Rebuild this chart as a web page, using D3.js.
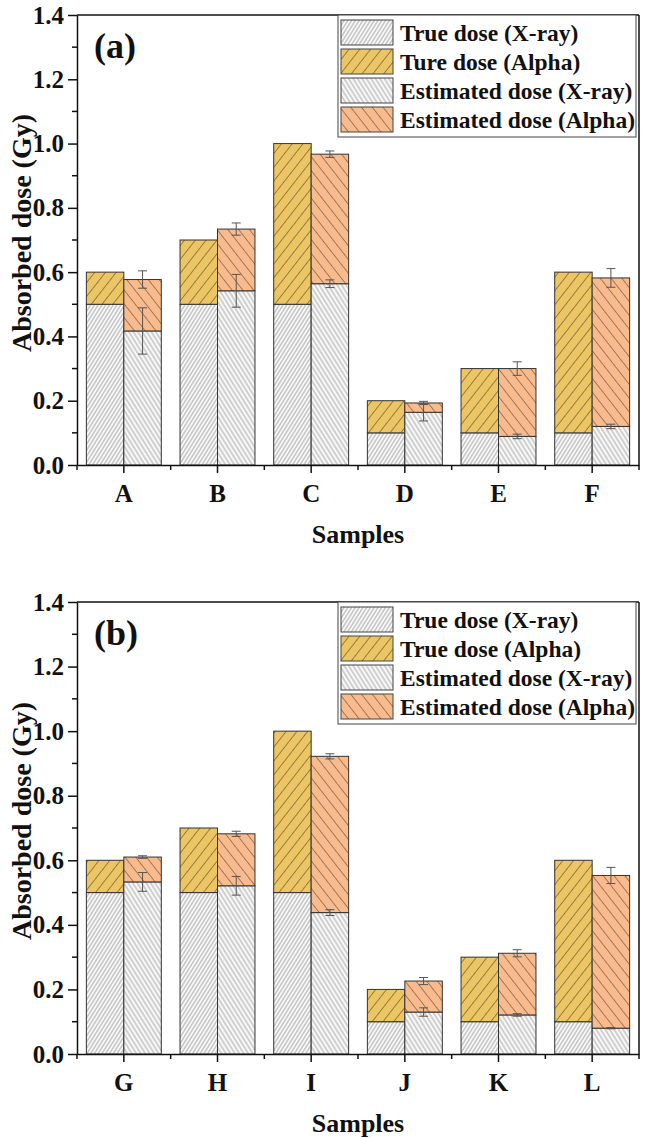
<!DOCTYPE html>
<html><head><meta charset="utf-8">
<script src="https://cdn.jsdelivr.net/npm/d3@7/dist/d3.min.js"></script>
<style>
body{margin:0;background:#fff}
svg{display:block}
text{font-family:"Liberation Serif","Times New Roman",serif;font-weight:bold;fill:#111}
</style>
</head><body>
<svg id="c" width="645" height="1138"></svg>
<script>
// ---------- data: panel (a) ----------
const categoriesA = ['A','B','C','D','E','F'];
const trueXrayA   = [0.5, 0.5, 0.5, 0.1, 0.1, 0.1];
const trueAlphaA  = [0.1, 0.2, 0.5, 0.1, 0.2, 0.5];
const estXrayA    = [0.417, 0.542, 0.564, 0.164, 0.089, 0.120];
const estXrayErrA = [0.072, 0.051, 0.012, 0.027, 0.007, 0.007];
const estAlphaA   = [0.160, 0.192, 0.403, 0.029, 0.211, 0.462];
const estTotErrA  = [0.027, 0.019, 0.010, 0.005, 0.021, 0.029];
const legendA = ['True dose (X-ray)','Ture dose (Alpha)','Estimated dose (X-ray)','Estimated dose (Alpha)'];

// ---------- data: panel (b) ----------
const categoriesB = ['G','H','I','J','K','L'];
const trueXrayB   = [0.5, 0.5, 0.5, 0.1, 0.1, 0.1];
const trueAlphaB  = [0.1, 0.2, 0.5, 0.1, 0.2, 0.5];
const estXrayB    = [0.533, 0.521, 0.438, 0.130, 0.121, 0.080];
const estXrayErrB = [0.029, 0.029, 0.009, 0.013, 0.004, 0.002];
const estAlphaB   = [0.077, 0.161, 0.484, 0.096, 0.191, 0.473];
const estTotErrB  = [0.004, 0.008, 0.008, 0.011, 0.011, 0.025];
const legendB = ['True dose (X-ray)','True dose (Alpha)','Estimated dose (X-ray)','Estimated dose (Alpha)'];

const yMajorTicks = [0, 0.2, 0.4, 0.6, 0.8, 1.0, 1.2, 1.4];
const yMinorTicks = [0.1, 0.3, 0.5, 0.7, 0.9, 1.1, 1.3];

const svg = d3.select('#c');
const defs = svg.append('defs');
function hatch(id, bg, stroke, spacing, angle, sw, op) {
  const p = defs.append('pattern').attr('id', id)
    .attr('patternUnits','userSpaceOnUse')
    .attr('width', spacing).attr('height', spacing)
    .attr('patternTransform', `rotate(${angle})`);
  p.append('rect').attr('width', spacing).attr('height', spacing).attr('fill', bg);
  p.append('line').attr('x1', spacing/2).attr('y1', -1).attr('x2', spacing/2).attr('y2', spacing+1)
    .attr('stroke', stroke).attr('stroke-width', sw).attr('stroke-opacity', op);
}
hatch('pTX', '#f8f8f8', '#7d7d7d', 3.2, 32, 0.7, 0.9);
hatch('pTA', '#ECC564', '#5e4c26', 8.5, 38, 0.8, 0.75);
hatch('pEX', '#f8f8f8', '#7d7d7d', 3.8, -32, 0.7, 0.9);
hatch('pEA', '#F8BB8D', '#6a4a38', 8.5, -38, 0.8, 0.75);
const fills = ['url(#pTX)','url(#pTA)','url(#pEX)','url(#pEA)'];

function panel(cfg) {
  const L = 77, R = 639;
  const g = svg.append('g');
  const x = d3.scaleBand().domain(cfg.cats).range([L, R]).padding(0);
  const inner = d3.scaleBand().domain(['t','e']).range([0, x.bandwidth()]).paddingInner(0).paddingOuter(0.25);
  const y = d3.scaleLinear().domain([0, 1.4]).range([cfg.bottom, cfg.top]);

  // bars
  cfg.cats.forEach((c, i) => {
    const segs = [
      {k:'t', y0:0, y1:cfg.tx[i], f:fills[0]},
      {k:'t', y0:cfg.tx[i], y1:cfg.tx[i]+cfg.ta[i], f:fills[1]},
      {k:'e', y0:0, y1:cfg.ex[i], f:fills[2]},
      {k:'e', y0:cfg.ex[i], y1:cfg.ex[i]+cfg.ea[i], f:fills[3]}
    ];
    g.selectAll(null).data(segs).enter().append('rect')
      .attr('x', d => x(c) + inner(d.k))
      .attr('width', inner.bandwidth())
      .attr('y', d => y(d.y1))
      .attr('height', d => y(d.y0) - y(d.y1))
      .attr('fill', d => d.f)
      .attr('stroke', '#333').attr('stroke-width', 1);
  });

  // error bars
  const errs = [];
  cfg.cats.forEach((c, i) => {
    const cx = x(c) + inner('e') + inner.bandwidth()/2;
    errs.push({cx, v: cfg.ex[i], e: cfg.exErr[i]});
    errs.push({cx, v: cfg.ex[i] + cfg.ea[i], e: cfg.totErr[i]});
  });
  const eg = g.selectAll(null).data(errs).enter().append('g').attr('stroke', '#555').attr('stroke-width', 1);
  eg.append('line').attr('x1', d => d.cx).attr('x2', d => d.cx).attr('y1', d => y(d.v - d.e)).attr('y2', d => y(d.v + d.e));
  eg.append('line').attr('x1', d => d.cx - 4.5).attr('x2', d => d.cx + 4.5).attr('y1', d => y(d.v - d.e)).attr('y2', d => y(d.v - d.e));
  eg.append('line').attr('x1', d => d.cx - 4.5).attr('x2', d => d.cx + 4.5).attr('y1', d => y(d.v + d.e)).attr('y2', d => y(d.v + d.e));

  // frame top/right
  g.append('line').attr('x1', L).attr('x2', R).attr('y1', y(1.4)).attr('y2', y(1.4)).attr('stroke', '#111').attr('stroke-width', 1.5);
  g.append('line').attr('x1', R).attr('x2', R).attr('y1', y(1.4)).attr('y2', y(0)).attr('stroke', '#111').attr('stroke-width', 1.5);

  // y axis
  const ya = g.append('g').attr('transform', `translate(${L},0)`)
    .call(d3.axisLeft(y).tickValues(yMajorTicks).tickFormat(d3.format('.1f')).tickSize(9).tickSizeOuter(0).tickPadding(4));
  ya.selectAll('text').style('font-size', '25px');
  ya.append('g').selectAll('line').data(yMinorTicks).enter().append('line')
    .attr('x1', -5).attr('x2', 0).attr('y1', d => y(d)).attr('y2', d => y(d)).attr('stroke', '#111');
  ya.selectAll('path,line').attr('stroke', '#111').attr('stroke-width', 1.5);

  // x axis
  const xa = g.append('g').attr('transform', `translate(0,${y(0)})`)
    .call(d3.axisBottom(x).tickSize(8).tickSizeOuter(0).tickPadding(11));
  xa.selectAll('text').style('font-size', '25px');
  const bounds = cfg.cats.map(c => x(c)).concat([x.range()[1]]);
  xa.append('g').selectAll('line').data(bounds).enter().append('line')
    .attr('x1', d => d).attr('x2', d => d).attr('y1', 0).attr('y2', 5);
  xa.selectAll('path,line').attr('stroke', '#111').attr('stroke-width', 1.5);

  // axis titles
  g.append('text').attr('x', (L + R)/2).attr('y', y(0) + 69).attr('text-anchor', 'middle')
    .attr('dominant-baseline', 'central').style('font-size', '26px').text('Samples');
  g.append('text').attr('transform', `translate(21,${(y(0) + y(1.4))/2 - 7}) rotate(-90)`)
    .attr('text-anchor', 'middle').attr('dominant-baseline', 'central').style('font-size', '28px')
    .text('Absorbed dose (Gy)');

  // panel label
  g.append('text').attr('x', 94).attr('y', y(1.4) + 31).attr('dominant-baseline', 'central')
    .style('font-size', '36px').text(cfg.label);

  // legend
  const lg = g.append('g').attr('transform', `translate(338,${y(1.4)})`);
  lg.append('rect').attr('width', 298).attr('height', 122).attr('fill', '#fff').attr('stroke', '#444').attr('stroke-width', 1);
  cfg.legend.forEach((t, i) => {
    const ry = 5 + i * 29;
    lg.append('rect').attr('x', 3).attr('y', ry).attr('width', 52).attr('height', 25)
      .attr('fill', fills[i]).attr('stroke', '#444').attr('stroke-width', 1);
    lg.append('text').attr('x', 62).attr('y', ry + 13).attr('dominant-baseline', 'central')
      .style('font-size', '23.5px').text(t);
  });
}

panel({top: 15, bottom: 465, cats: categoriesA, tx: trueXrayA, ta: trueAlphaA, ex: estXrayA, exErr: estXrayErrA,
       ea: estAlphaA, totErr: estTotErrA, legend: legendA, label: '(a)'});
panel({top: 602, bottom: 1054, cats: categoriesB, tx: trueXrayB, ta: trueAlphaB, ex: estXrayB, exErr: estXrayErrB,
       ea: estAlphaB, totErr: estTotErrB, legend: legendB, label: '(b)'});
</script>
</body></html>
